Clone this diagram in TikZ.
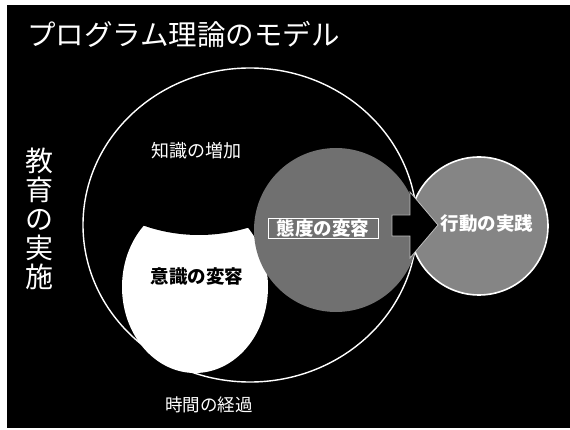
\documentclass[tikz,border=0pt]{standalone}
\usepackage{fontspec}
\setmainfont{Noto Sans CJK JP}
\begin{document}
\begin{tikzpicture}[x=1pt,y=-1pt,
  lbl/.style={text=white, inner sep=0pt, font=\fontsize{18}{18}\selectfont},
  lblbold/.style={inner sep=0pt, font=\fontsize{18.5}{18.5}\selectfont\bfseries},
  halftone/.style={fill=black!56},
  halftonelight/.style={fill=black!48}]
\useasboundingbox (0,0) rectangle (570,430);
\fill[white] (0,0) rectangle (570,430);
\fill[black] (7,5) rectangle (570,428);
% title
\node[text=white, anchor=west, inner sep=0pt, font=\fontsize{28.5}{28.5}\selectfont] (title) at (27,34) {プログラム理論のモデル};
% vertical label
\node[text=white, align=center, inner sep=0pt, font=\fontsize{28}{29}\selectfont] (edu) at (39,219) {教\\育\\の\\実\\施};
% big ellipse
\draw[white, line width=1.4pt] (250,225) ellipse [x radius=167, y radius=157];
% white blob with bite
\fill[white] (195,287) ellipse [x radius=73, y radius=86];
\begin{scope}
  \clip (195,287) ellipse [x radius=74, y radius=87];
  \fill[black] (199,68) circle [radius=167];
\end{scope}
% textured circle (attitude)
\fill[halftone] (336,230) circle [radius=82];
% right circle (behaviour)
\filldraw[halftonelight, draw=white, line width=1.6pt] (479,226) circle [radius=69];
% arrow
\filldraw[fill=black, draw=white!75!black, line width=0.8pt]
  (392,215) -- (410,215) -- (410,192) -- (438,225) -- (410,258) -- (410,236) -- (392,236) -- cycle;
% labels
\node[lbl] (know) at (196,151) {知識の増加};
\node[lblbold, text=black] (aware) at (197,277) {意識の変容};
\node[lblbold, text=white, draw=white, line width=0.8pt, minimum width=110pt, minimum height=20pt] (att) at (323,228) {態度の変容};
\node[lblbold, text=white] (act) at (487,224) {行動の実践};
\node[lbl, font=\fontsize{17.5}{17.5}\selectfont] (time) at (209,405) {時間の経過};
\end{tikzpicture}
\end{document}
